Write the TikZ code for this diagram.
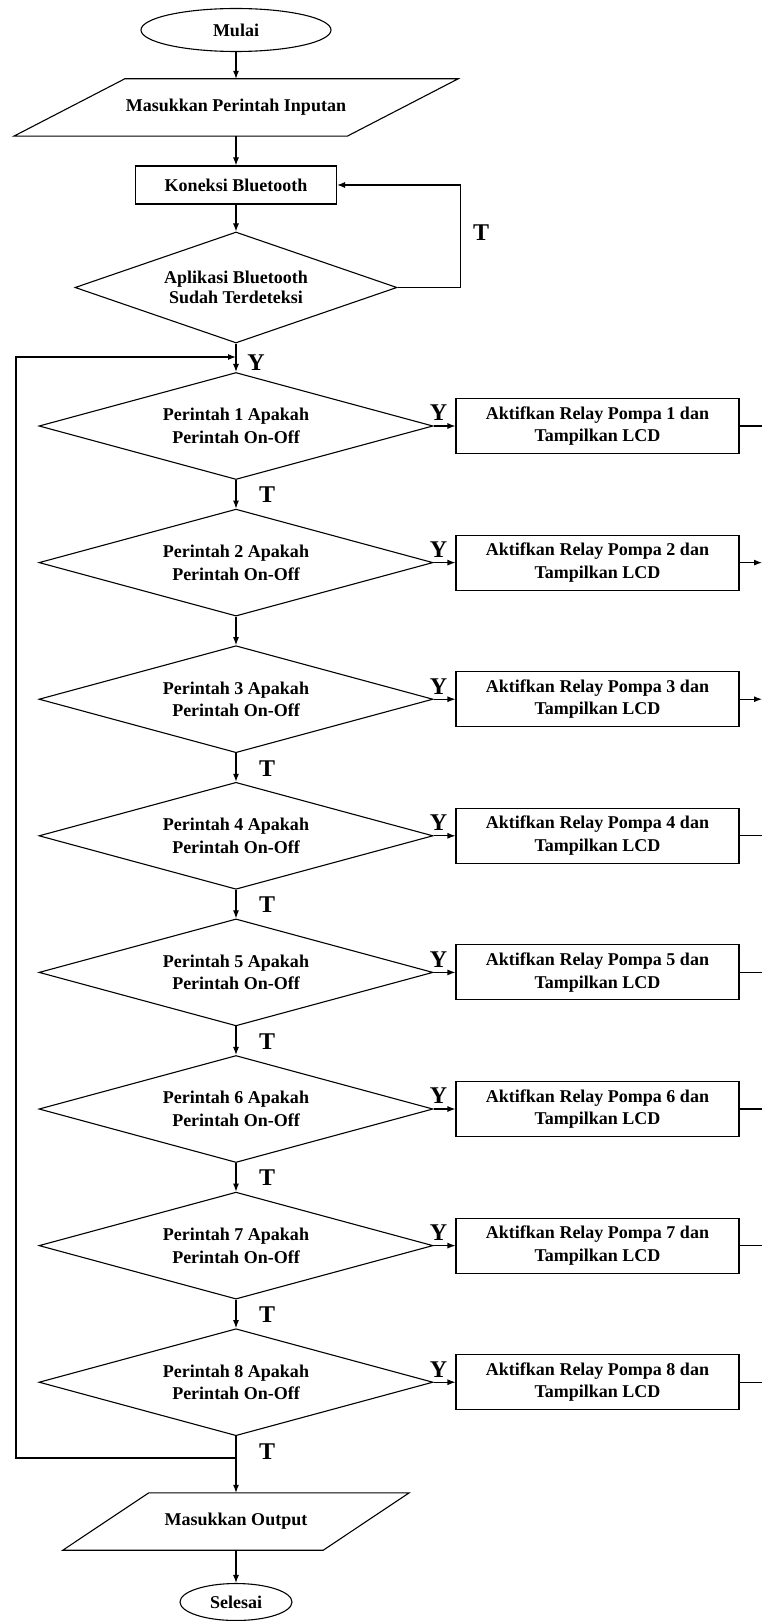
\documentclass[tikz,border=0pt]{standalone}
\usepackage{fontspec}
\setmainfont{Liberation Serif}
\usetikzlibrary{shapes.geometric,arrows.meta}
\begin{document}
\begin{tikzpicture}[x=1pt,y=-1pt,
  every node/.style={font=\fontsize{18}{22.5}\selectfont\bfseries, align=center, inner sep=0pt},
  line/.style={line width=1.1pt},
  arr/.style={line width=1.1pt, -{Latex[length=8pt,width=6pt]}},
  term/.style={ellipse, draw, line width=1.1pt},
  proc/.style={rectangle, draw, line width=1.1pt},
  dec/.style={diamond, draw, line width=1.1pt, aspect=3.68, minimum width=394pt, minimum height=107pt},
  lbl/.style={font=\fontsize{24}{24}\selectfont\bfseries}
]
\fill[white] (0,0) rectangle (762,1621);
\useasboundingbox (0,0) rectangle (762,1621);

% top part
\node[term, minimum width=190pt, minimum height=43pt] (start) at (236,30) {Mulai};
\node[minimum width=222pt, minimum height=57pt] (in) at (236,107.5) {Masukkan Perintah Inputan};
\draw[line] (in.north west) -- ([xshift=111pt]in.north east)
  -- (in.south east) -- ([xshift=-111pt]in.south west) -- cycle;
\node[proc, minimum width=201pt, minimum height=38pt] (bt) at (236,185) {Koneksi Bluetooth};
\node[dec, aspect=2.9, minimum width=322pt, minimum height=111pt, font=\fontsize{18}{20.5}\selectfont\bfseries] (ap) at (236,287.5) {Aplikasi Bluetooth\\Sudah Terdeteksi};

\draw[arr] (start.south) -- (in.north);
\draw[arr] (in.south) -- (bt.north);
\draw[arr] (bt.south) -- (ap.north);
\draw[arr] (ap.east) -- ++(63,0) |- (bt.east);
\node[lbl] (tap) at (481,233) {T};
\node[lbl] (yap) at (256,363) {Y};

% decisions and actions
\foreach \i in {1,...,8} {
  \pgfmathsetmacro\yy{426+136.6*(\i-1)}
  \node[dec] (d\i) at (236,\yy) {Perintah \i\ Apakah\\Perintah On-Off};
  \node[proc, minimum width=283pt, minimum height=55pt] (b\i) at (597.5,\yy) {Aktifkan Relay Pompa \i\ dan\\Tampilkan LCD};
  \coordinate (r\i) at (762,\yy);
  \node[lbl] (y\i) at ([xshift=5pt,yshift=13pt]d\i.east) {Y};
}
\foreach \i in {1,...,8} {
  \draw[arr] (d\i.east) -- (b\i.west);
}
\foreach \i in {1,4,5,6,7,8} {
  \draw[line] (b\i.east) -- (r\i);
}
\foreach \i in {2,3} {
  \draw[arr] (b\i.east) -- (r\i);
}
\draw[arr] (ap.south) -- (d1.north);
\foreach \i/\j in {1/2,2/3,3/4,4/5,5/6,6/7,7/8} {
  \draw[arr] (d\i.south) -- (d\j.north);
}
\foreach \i in {1,3,4,5,6,7,8} {
  \node[lbl] (t\i) at ([xshift=31pt,yshift=-15pt]d\i.south) {T};
}

% bottom
\node[minimum width=174pt, minimum height=57pt] (out) at (236,1521.5) {Masukkan Output};
\draw[line] (out.north west) -- ([xshift=86pt]out.north east)
  -- (out.south east) -- ([xshift=-86pt]out.south west) -- cycle;
\node[term, minimum width=112pt, minimum height=37pt] (end) at (236,1602) {Selesai};
\draw[arr] (d8.south) -- (out.north);
\draw[arr] (out.south) -- (end.north);

% feedback loop on the left
\coordinate (jb) at (236,1458);
\coordinate (lb) at (16,1458);
\coordinate (lt) at (16,357);
\coordinate (jt) at (236,357);
\draw[arr] (jb) -- (lb) -- (lt) -- (jt);
\end{tikzpicture}
\end{document}
